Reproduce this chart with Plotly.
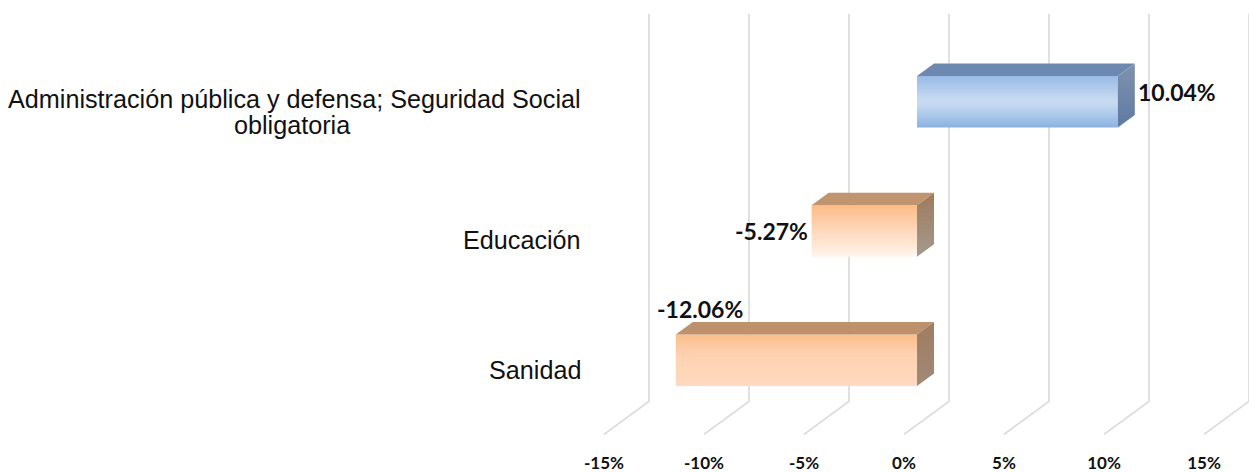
import plotly.graph_objects as go

# ---------------- data ----------------
categories = ["Sanidad", "Educación",
              "Administración pública y defensa; Seguridad Social<br>obligatoria"]
values = [-12.06, -5.27, 10.04]
value_labels = ["-12.06%", "-5.27%", "10.04%"]
tick_values = [-15, -10, -5, 0, 5, 10, 15]
tick_labels = ["-15%", "-10%", "-5%", "0%", "5%", "10%", "15%"]

# ---------------- styles ----------------
front_scales = [
    [[0, "#FDD9BF"], [0.6, "#FDD2B2"], [1, "#FABE8C"]],
    [[0, "#FFF5EE"], [1, "#FBBC88"]],
    [[0, "#8CB2E2"], [0.45, "#C6D9F1"], [0.55, "#C6D9F1"], [1, "#98BAE5"]],
]
top_colors = ["#BC916B", "#BF946E", "#6D89B0"]
side_scales = [
    [[0, "#A08A78"], [1, "#A07C5F"]],
    [[0, "#A39A90"], [1, "#A07A5A"]],
    [[0, "#5E7AA3"], [1, "#8092AE"]],
]
GRID = "#D9D9D9"
CAT_FONT = dict(family="Liberation Sans", size=25.2, color="#111111")

# oblique 3D projection (depth d: 0 = back wall, 1 = front of floor)
DX = -2.25      # x-units per full depth
DY = -0.2554    # y-units per full depth
D_BACK, D_FRONT = 0.333, 0.711
H = 0.1993      # half bar thickness (category units)
WALL_LO, WALL_HI = -0.5, 2.5


def proj(x, y, d):
    return x + DX * d, y + DY * d


def poly(pts):
    xs, ys = zip(*[proj(*p) for p in pts])
    return list(xs) + [xs[0]], list(ys) + [ys[0]]


fig = go.Figure()

# gridlines: back wall verticals + floor diagonals
gx, gy = [], []
for t in tick_values:
    for p in [(t, WALL_HI, 0), (t, WALL_LO, 0), (t, WALL_LO, 1)]:
        x, y = proj(*p)
        gx.append(x)
        gy.append(y)
    gx.append(None)
    gy.append(None)
fig.add_trace(go.Scatter(x=gx, y=gy, mode="lines",
                         line=dict(color=GRID, width=1.6),
                         hoverinfo="skip", showlegend=False))

# 3D bars
for i, v in enumerate(values):
    lo, hi = i - H, i + H
    # front face
    xs, ys = poly([(0, lo, D_FRONT), (v, lo, D_FRONT), (v, hi, D_FRONT), (0, hi, D_FRONT)])
    fig.add_trace(go.Scatter(x=xs, y=ys, mode="lines", fill="toself",
                             fillgradient=dict(type="vertical", colorscale=front_scales[i]),
                             line=dict(width=0), hoverinfo="skip", showlegend=False))
    # top face
    xs, ys = poly([(0, hi, D_FRONT), (v, hi, D_FRONT), (v, hi, D_BACK), (0, hi, D_BACK)])
    fig.add_trace(go.Scatter(x=xs, y=ys, mode="lines", fill="toself",
                             fillcolor=top_colors[i],
                             line=dict(width=0), hoverinfo="skip", showlegend=False))
    # side face (right end)
    xr = max(0, v)
    xs, ys = poly([(xr, lo, D_FRONT), (xr, hi, D_FRONT), (xr, hi, D_BACK), (xr, lo, D_BACK)])
    fig.add_trace(go.Scatter(x=xs, y=ys, mode="lines", fill="toself",
                             fillgradient=dict(type="vertical", colorscale=side_scales[i]),
                             line=dict(width=0), hoverinfo="skip", showlegend=False))

# category labels (front plane, left of axis)
for i, c in enumerate(categories):
    x, y = proj(tick_values[0], i, 1)
    lines = c.split("<br>")
    if len(lines) == 1:
        fig.add_annotation(x=x, y=y, text=c, showarrow=False, xanchor="right",
                           yanchor="middle", xshift=-21, font=CAT_FONT)
    else:
        fig.add_annotation(x=x, y=y, text=lines[0], showarrow=False, xanchor="right",
                           yanchor="middle", xshift=-21, yshift=12.5, font=CAT_FONT)
        fig.add_annotation(x=x, y=y, text=lines[1], showarrow=False, xanchor="center",
                           yanchor="middle", xshift=-312, yshift=-14, font=CAT_FONT)

# value labels
lab_font = dict(family="Lato", size=23, color="#111111", weight="bold")
for i, (v, t) in enumerate(zip(values, value_labels)):
    if v >= 0:
        x, y = proj(v, i, (D_BACK + D_FRONT) / 2)
        xb, _ = proj(v, i, D_BACK)
        fig.add_annotation(x=xb, y=y, text=t, showarrow=False, xanchor="left",
                           yanchor="middle", xshift=1, yshift=4, font=lab_font)
    elif v > -10:
        x, y = proj(v, i, D_FRONT)
        fig.add_annotation(x=x, y=y, text=t, showarrow=False, xanchor="right",
                           yanchor="middle", xshift=-2, font=lab_font)
    else:
        x, y = proj(v, i + H, D_BACK)
        fig.add_annotation(x=x, y=y, text=t, showarrow=False, xanchor="center",
                           yanchor="bottom", xshift=7, yshift=-3, font=lab_font)

fig.update_layout(
    width=1249, height=472,
    margin=dict(l=0, r=0, t=0, b=36, autoexpand=False),
    paper_bgcolor="white", plot_bgcolor="white",
    xaxis=dict(range=[-47.45, 15.0], showgrid=False, zeroline=False, showline=False,
               automargin=False,
               tickvals=[t + DX for t in tick_values], ticktext=tick_labels,
               ticks="outside", ticklen=0, ticklabelstandoff=12,
               tickfont=dict(family="Lato", size=17, color="#111111", weight="bold"),
               fixedrange=True),
    yaxis=dict(range=[-0.7686, 2.606], visible=False, automargin=False, fixedrange=True),
    showlegend=False,
)

fig.write_html("out.html",
               config={"displayModeBar": False},
               post_script="document.body.style.margin='0px';"
                           "document.body.style.overflow='hidden';")
